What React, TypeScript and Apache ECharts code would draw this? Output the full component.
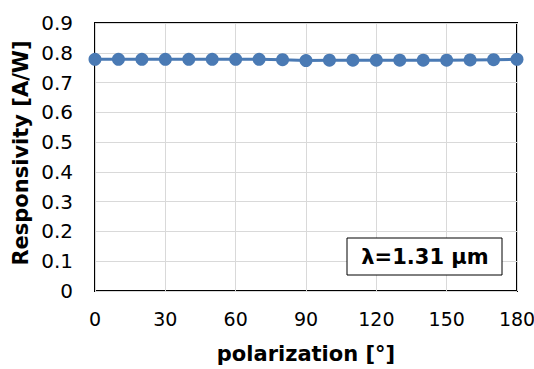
import React, { useEffect, useRef } from "react";
import * as echarts from "echarts";

const angles = [0, 10, 20, 30, 40, 50, 60, 70, 80, 90, 100, 110, 120, 130, 140, 150, 160, 170, 180];
const responsivity = [0.778, 0.778, 0.778, 0.778, 0.778, 0.778, 0.778, 0.778, 0.777, 0.774, 0.775, 0.775, 0.775, 0.775, 0.775, 0.775, 0.776, 0.777, 0.778];
const xTitle = "polarization [°]";
const yTitle = "Responsivity [A/W]";
const annotation = "λ=1.31 μm";

export default function App() {
  const ref = useRef<HTMLDivElement>(null);
  useEffect(() => {
    if (!ref.current) return;
    const chart = echarts.init(ref.current, null, { renderer: "svg" });
    const font = "Verdana, 'DejaVu Sans', sans-serif";
    chart.setOption({
      animation: false,
      backgroundColor: "#ffffff",
      grid: {
        left: 95,
        top: 23,
        right: 17,
        bottom: 78,
        show: true,
        borderColor: "#000000",
        borderWidth: 2,
        containLabel: false,
        outerBoundsMode: "none",
      },
      xAxis: {
        type: "value",
        min: 0,
        max: 180,
        interval: 30,
        name: xTitle,
        nameLocation: "middle",
        nameGap: 52,
        nameTextStyle: { fontFamily: font, fontWeight: "bold", fontSize: 21, color: "#000" },
        axisLine: { show: false },
        axisTick: { show: false },
        axisLabel: { fontFamily: font, fontSize: 19, color: "#000", margin: 18 },
        splitLine: { show: true, lineStyle: { color: "#d9d9d9", width: 1 } },
      },
      yAxis: {
        type: "value",
        min: 0,
        max: 0.9,
        interval: 0.1,
        axisLine: { show: false },
        axisTick: { show: false },
        axisLabel: {
          fontFamily: font,
          fontSize: 20,
          color: "#000",
          margin: 22,
          formatter: (v: number) => (v === 0 ? "0" : v.toFixed(1)),
        },
        splitLine: { show: true, lineStyle: { color: "#d9d9d9", width: 1 } },
      },
      graphic: [
        {
          type: "text",
          rotation: Math.PI / 2,
          x: 21,
          y: 153,
          style: {
            text: yTitle,
            fontFamily: font,
            fontWeight: "bold",
            fontSize: 21,
            fill: "#000",
            align: "center",
            verticalAlign: "middle",
          },
        },
        {
          type: "rect",
          shape: { x: 347, y: 238, width: 155, height: 37 },
          style: { fill: "#fff", stroke: "#000", lineWidth: 1 },
          z: 10,
        },
        {
          type: "text",
          x: 425,
          y: 257,
          z: 11,
          style: {
            text: annotation,
            fontFamily: font,
            fontWeight: "bold",
            fontSize: 21,
            fill: "#000",
            align: "center",
            verticalAlign: "middle",
          },
        },
      ],
      series: [
        {
          type: "line",
          data: angles.map((a, i) => [a, responsivity[i]]),
          symbol: "circle",
          symbolSize: 13,
          itemStyle: { color: "#4a7ab4" },
          lineStyle: { color: "#4a7ab4", width: 3 },
          z: 3,
        },
      ],
    });
    return () => chart.dispose();
  }, []);
  return (
    <div
      ref={ref}
      style={{ position: "fixed", left: 0, top: 0, width: 534, height: 369 }}
    />
  );
}
